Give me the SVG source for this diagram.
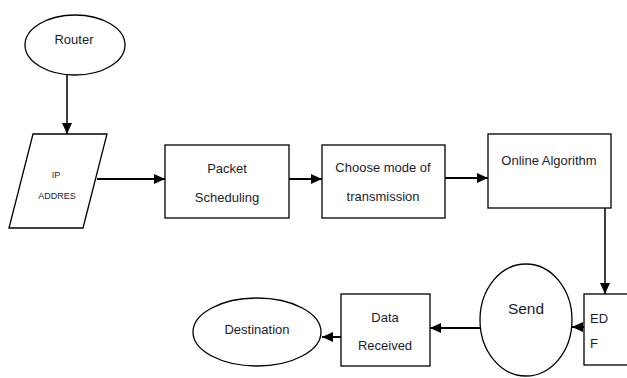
<svg xmlns="http://www.w3.org/2000/svg" width="627" height="378" viewBox="0 0 627 378">
<style>
.shape{fill:#fff;stroke:#000;stroke-width:1.3}
.txt{font-family:"Liberation Sans",Arial,sans-serif;font-size:13px;fill:#1c1c30;text-anchor:middle}
.sm{font-size:9px}
.big{font-size:15.5px}
.left{text-anchor:start}
.conn{stroke:#000;stroke-width:2;fill:none;marker-end:url(#ah)}
</style>
<defs>
<marker id="ah" markerUnits="userSpaceOnUse" markerWidth="12" markerHeight="12" refX="11" refY="6" orient="auto">
<path d="M0,1 L11,6 L0,11 Z" fill="#000"/>
</marker>
</defs>
<rect width="627" height="378" fill="#fff"/>
<g id="connectors">
<line class="conn" x1="67" y1="75" x2="67" y2="134" style="stroke-width:1.5"/>
<line class="conn" x1="97" y1="179" x2="165" y2="179"/>
<line class="conn" x1="289" y1="179" x2="322" y2="179"/>
<line class="conn" x1="445" y1="178" x2="488" y2="178"/>
<line class="conn" x1="605" y1="208" x2="605" y2="294" style="stroke-width:1.5"/>
<line class="conn" x1="584" y1="327" x2="572" y2="327"/>
<line class="conn" x1="480" y1="328" x2="430" y2="328"/>
<line class="conn" x1="341" y1="337" x2="322" y2="337"/>
</g>
<g id="router">
<ellipse class="shape" cx="75" cy="45" rx="50" ry="30"/>
<text class="txt" x="74" y="44">Router</text>
</g>
<g id="ip-address">
<polygon class="shape" points="33,134 107,134 83,228 9,228"/>
<text class="txt sm" x="56" y="178">IP</text>
<text class="txt sm" x="57" y="199">ADDRES</text>
</g>
<g id="packet-scheduling">
<rect class="shape" x="165" y="145" width="124" height="73"/>
<text class="txt" x="227" y="173">Packet</text>
<text class="txt" x="227" y="202">Scheduling</text>
</g>
<g id="choose-mode">
<rect class="shape" x="322" y="145" width="123" height="73"/>
<text class="txt" x="383" y="172">Choose mode of</text>
<text class="txt" x="383" y="201">transmission</text>
</g>
<g id="online-algorithm">
<rect class="shape" x="488" y="134" width="123" height="74"/>
<text class="txt" x="549" y="165">Online Algorithm</text>
</g>
<g id="edf">
<rect class="shape" x="584" y="294" width="50" height="71"/>
<text class="txt left" x="590" y="323">ED</text>
<text class="txt left" x="590" y="348">F</text>
</g>
<g id="send">
<ellipse class="shape" cx="526" cy="320" rx="46" ry="56"/>
<text class="txt big" x="526" y="314">Send</text>
</g>
<g id="data-received">
<rect class="shape" x="341" y="294" width="89" height="72"/>
<text class="txt" x="385" y="322">Data</text>
<text class="txt" x="385" y="350">Received</text>
</g>
<g id="destination">
<ellipse class="shape" cx="257" cy="332" rx="64" ry="34"/>
<text class="txt" x="257" y="334">Destination</text>
</g>
</svg>
